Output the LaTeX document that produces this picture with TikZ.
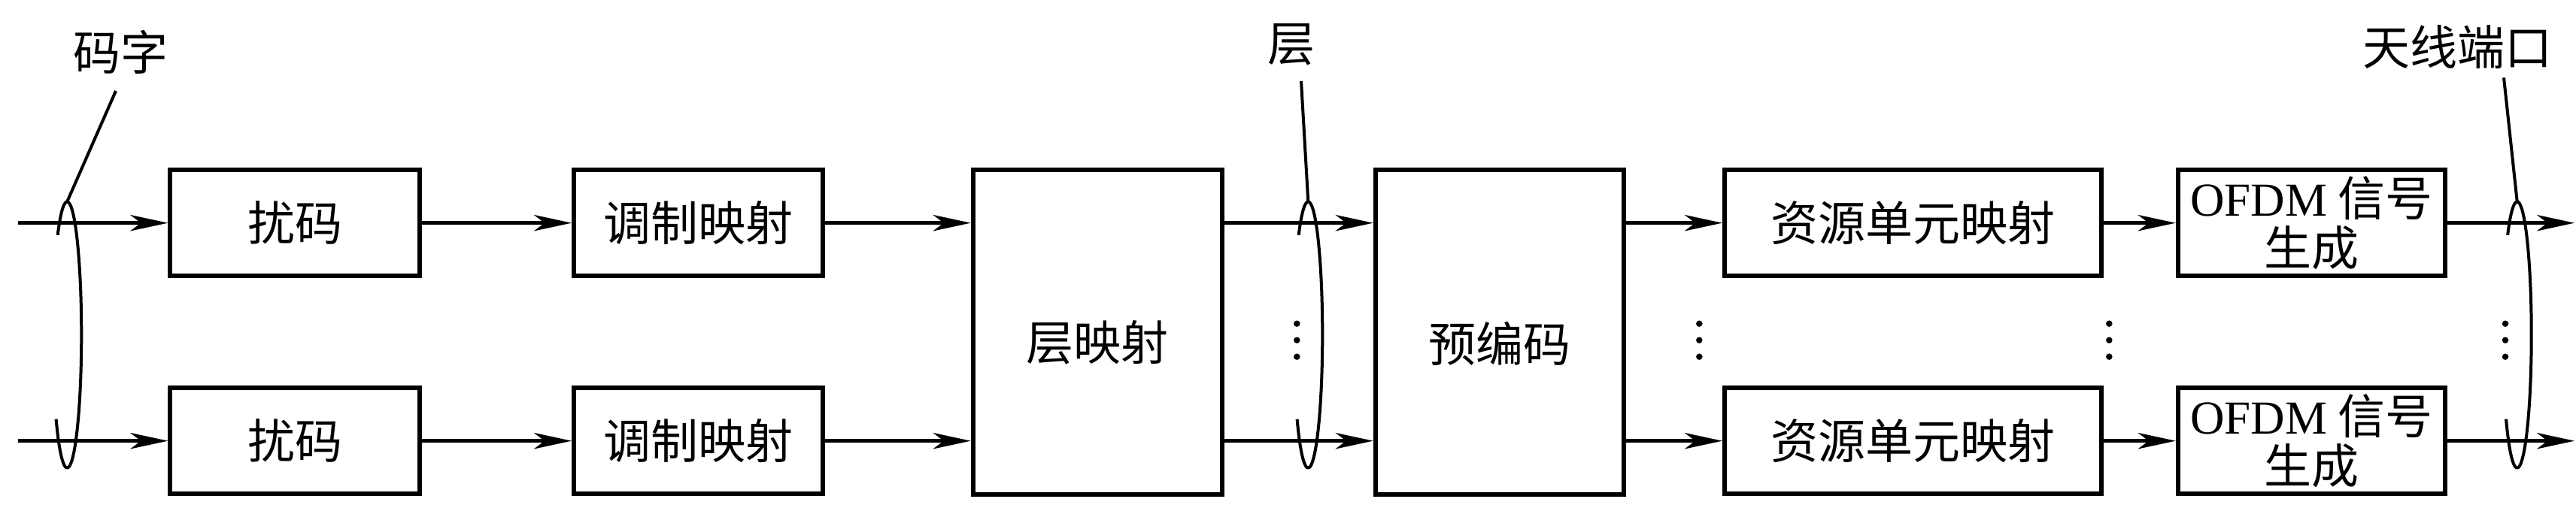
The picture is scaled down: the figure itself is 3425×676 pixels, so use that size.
\documentclass[tikz,border=0pt]{standalone}
\usepackage{fontspec}
\setmainfont{Liberation Serif}
\newfontfamily\cjk{Noto Sans CJK SC}
\newfontfamily\lat{Liberation Serif}
\usetikzlibrary{arrows.meta}
\begin{document}
\begin{tikzpicture}[x=1pt,y=1pt,
  txt/.style={font=\cjk\fontsize{63}{66}\selectfont},
  sbox/.style={draw, line width=6pt, minimum height=141.4pt, inner sep=0pt, align=center, txt},
  bbox/.style={draw, line width=6pt, minimum height=431.7pt, inner sep=0pt},
  conn/.style={line width=4.5pt, -{Stealth[length=50pt,width=21.4pt,inset=14pt]}},
  loopline/.style={line width=4pt},
  lbl/.style={txt, inner sep=0pt},
  dotc/.style={circle, fill, inner sep=0pt, minimum size=8.5pt}]
\useasboundingbox (0,0) rectangle (3425,676);

% boxes
\node[sbox, minimum width=332pt] (s1) at (392.3,379.3) {扰码};
\node[sbox, minimum width=332pt] (s2) at (392.3,89.3) {扰码};
\node[sbox, minimum width=331.3pt] (m1) at (928.7,379.3) {调制映射};
\node[sbox, minimum width=331.3pt] (m2) at (928.7,89.3) {调制映射};
\node[bbox, minimum width=331pt, label={[lbl,yshift=-14pt]center:层映射}] (lm) at (1459.2,233.85) {};
\node[bbox, minimum width=330.3pt, label={[lbl,yshift=-15pt]center:预编码}] (pc) at (1993.9,233.85) {};
\node[sbox, minimum width=500.7pt] (r1) at (2543.3,379.3) {资源单元映射};
\node[sbox, minimum width=500.7pt] (r2) at (2543.3,89.3) {资源单元映射};
\node[sbox, minimum width=354.8pt] (o1) at (3073.1,379.3) {{\lat OFDM} 信号\\生成};
\node[sbox, minimum width=354.8pt] (o2) at (3073.1,89.3) {{\lat OFDM} 信号\\生成};

% free ends
\coordinate (in1) at (24,379.3);
\coordinate (in2) at (24,89.3);
\coordinate (out1) at (3423,379.3);
\coordinate (out2) at (3423,89.3);

% connectors
\foreach \r in {1,2}{
  \draw[conn] (in\r) -- (s\r);
  \draw[conn] (s\r) -- (m\r);
  \draw[conn] (m\r.east) -- (m\r.east -| lm.west);
  \draw[conn] (lm.east |- m\r.east) -- (pc.west |- m\r.east);
  \draw[conn] (pc.east |- r\r.west) -- (r\r.west);
  \draw[conn] (r\r) -- (o\r);
  \draw[conn] (o\r) -- (out\r);
}

% dots
\foreach \x [count=\i] in {1724.3,2259.3,2804.3,3331}{
  \node[dotc] (da\i) at (\x,245.3) {};
  \node[dotc] (db\i) at (\x,223.3) {};
  \node[dotc] (dc\i) at (\x,201.3) {};
}

% bundle loops
\foreach \cx [count=\i] in {89.3,1739.3,3346.7}{
  \coordinate (et\i) at (\cx,407.7);
  \draw[loopline] (\cx,230.5) ++(131.5:19pt and 177.2pt)
     arc[start angle=131.5, end angle=-140.7, x radius=19pt, y radius=177.2pt];
}

% labels and leaders
\node[lbl] (lab1) at (160.7,607) {码字};
\node[lbl] (lab2) at (1716.7,617) {层};
\node[lbl] (lab3) at (3267,613.5) {天线端口};
\coordinate (k1) at (154,555);
\coordinate (k2) at (1730,568);
\coordinate (k3) at (3329,572.6);
\draw[loopline] (et1) -- (k1);
\draw[loopline] (et2) -- (k2);
\draw[loopline] (et3) -- (k3);
\end{tikzpicture}
\end{document}
